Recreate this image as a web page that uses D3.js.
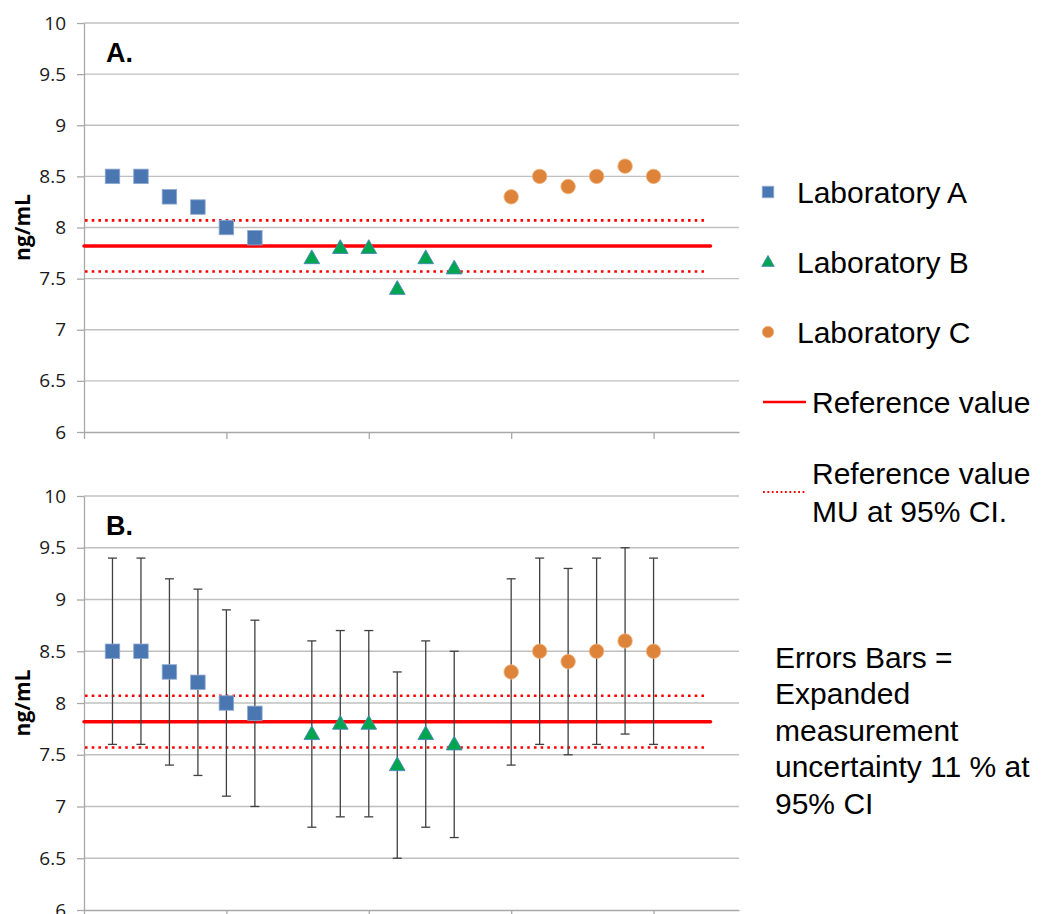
<!DOCTYPE html>
<html>
<head>
<meta charset="utf-8">
<script src="https://cdn.jsdelivr.net/npm/d3@7"></script>
<style>
  body { margin: 0; background: #fff; }
  svg { display: block; }
</style>
</head>
<body>
<script>
// values
const labAx = [1, 2, 3, 4, 5, 6];
const labAy = [8.5, 8.5, 8.3, 8.2, 8.0, 7.9];
const labAhi = [9.4, 9.4, 9.2, 9.1, 8.9, 8.8];
const labAlo = [7.6, 7.6, 7.4, 7.3, 7.1, 7.0];

const labBx = [8, 9, 10, 11, 12, 13];
const labBy = [7.7, 7.8, 7.8, 7.4, 7.7, 7.6];
const labBhi = [8.6, 8.7, 8.7, 8.3, 8.6, 8.5];
const labBlo = [6.8, 6.9, 6.9, 6.5, 6.8, 6.7];

const labCx = [15, 16, 17, 18, 19, 20];
const labCy = [8.3, 8.5, 8.4, 8.5, 8.6, 8.5];
const labChi = [9.2, 9.4, 9.3, 9.4, 9.5, 9.4];
const labClo = [7.4, 7.6, 7.5, 7.6, 7.7, 7.6];

const refValue = 7.82;
const refUpper = 8.07;
const refLower = 7.57;
const refXRange = [0, 22];

const yTicks = [6, 6.5, 7, 7.5, 8, 8.5, 9, 9.5, 10];
const xTicks = [0, 5, 10, 15, 20];

const width = 1043;
const height = 914;

const blue = "#4a77b2", green = "#00a550", orange = "#de843a", red = "#ff0000";
const gridColor = "#c0c0c0";

const svg = d3.create("svg")
    .attr("width", width)
    .attr("height", height)
    .attr("viewBox", `0 0 ${width} ${height}`);

const x = d3.scaleLinear().domain([0, 23]).range([84, 739]);

const labs = [
    {name: "Laboratory A", xs: labAx, ys: labAy, hi: labAhi, lo: labAlo, shape: "square"},
    {name: "Laboratory B", xs: labBx, ys: labBy, hi: labBhi, lo: labBlo, shape: "triangle"},
    {name: "Laboratory C", xs: labCx, ys: labCy, hi: labChi, lo: labClo, shape: "circle"}
];

function marker(g, shape, cx, cy, s) {
    if (shape === "square") {
        g.append("rect")
            .attr("x", cx - s / 2).attr("y", cy - s / 2)
            .attr("width", s).attr("height", s)
            .attr("fill", blue).attr("stroke", "#8fa9d0").attr("stroke-width", 0.8);
    } else if (shape === "triangle") {
        const w = s * 1.08, h = s * 0.95;
        g.append("path")
            .attr("d", `M${cx},${cy - h * 0.6}L${cx + w / 2},${cy + h * 0.4}L${cx - w / 2},${cy + h * 0.4}Z`)
            .attr("fill", green).attr("stroke", "#4a86b8").attr("stroke-width", 0.9);
    } else {
        g.append("circle")
            .attr("cx", cx).attr("cy", cy).attr("r", s / 2)
            .attr("fill", orange).attr("stroke", "#f0b482").attr("stroke-width", 0.8);
    }
}

function panel(top, bottom, label, withErrors) {
    const y = d3.scaleLinear().domain([6, 10]).range([bottom, top]);
    const g = svg.append("g");

    // gridlines
    g.selectAll(".grid")
        .data(yTicks.filter(d => d > 6))
        .enter()
        .append("line")
        .attr("x1", x(0)).attr("x2", x(23))
        .attr("y1", d => y(d)).attr("y2", d => y(d))
        .attr("stroke", gridColor).attr("stroke-width", 1.3);

    // y axis
    const ya = g.append("g")
        .attr("transform", `translate(${x(0)},0)`)
        .call(d3.axisLeft(y).tickValues(yTicks).tickSize(7).tickSizeOuter(0).tickPadding(11)
            .tickFormat(d3.format("")));
    ya.select(".domain").attr("stroke", "#a8a8a8").attr("stroke-width", 1.3);
    ya.selectAll(".tick line").attr("stroke", "#a8a8a8").attr("stroke-width", 1.3);
    ya.selectAll(".tick text")
        .attr("fill", "#1a1a1a")
        .style("font-family", "'Open Sans', sans-serif")
        .style("font-size", "19px");

    // x axis
    const xa = g.append("g")
        .attr("transform", `translate(0,${y(6)})`)
        .call(d3.axisBottom(x).tickValues(xTicks).tickSize(7).tickSizeOuter(0).tickFormat(""));
    xa.select(".domain").attr("stroke", "#a8a8a8").attr("stroke-width", 1.3);
    xa.selectAll(".tick line").attr("stroke", "#a8a8a8").attr("stroke-width", 1.3);

    // axis title
    g.append("text")
        .attr("transform", `translate(30,${(top + bottom) / 2}) rotate(-90)`)
        .attr("text-anchor", "middle")
        .style("font-family", "'Open Sans', sans-serif")
        .style("font-weight", "bold")
        .style("font-size", "21px")
        .text("ng/mL");

    // panel label
    g.append("text")
        .attr("x", 106).attr("y", top + 39)
        .style("font-family", "'Liberation Sans', Arial, sans-serif")
        .style("font-weight", "bold")
        .style("font-size", "27px")
        .text(label);

    // reference lines
    g.append("line")
        .attr("x1", x(refXRange[0])).attr("x2", x(refXRange[1]))
        .attr("y1", y(refValue)).attr("y2", y(refValue))
        .attr("stroke", red).attr("stroke-width", 3.5).attr("stroke-linecap", "round");
    [refUpper, refLower].forEach(v => {
        g.append("line")
            .attr("x1", x(refXRange[0]) + 1).attr("x2", x(refXRange[1]) - 3)
            .attr("y1", y(v)).attr("y2", y(v))
            .attr("stroke", red).attr("stroke-width", 2.6)
            .attr("stroke-dasharray", "2.6,4.1");
    });

    // error bars
    if (withErrors) {
        labs.forEach(lab => {
            lab.xs.forEach((xv, i) => {
                const cx = x(xv);
                g.append("line")
                    .attr("x1", cx).attr("x2", cx)
                    .attr("y1", y(lab.hi[i])).attr("y2", y(lab.lo[i]))
                    .attr("stroke", "#404040").attr("stroke-width", 1.3);
                [lab.hi[i], lab.lo[i]].forEach(v => {
                    g.append("line")
                        .attr("x1", cx - 4.5).attr("x2", cx + 4.5)
                        .attr("y1", y(v)).attr("y2", y(v))
                        .attr("stroke", "#404040").attr("stroke-width", 1.3);
                });
            });
        });
    }

    // points
    labs.forEach(lab => {
        lab.xs.forEach((xv, i) => marker(g, lab.shape, x(xv), y(lab.ys[i]), 14.5));
    });
}

panel(23, 432, "A.", false);
panel(496, 910, "B.", true);

// legend
const legendFont = "'Liberation Sans', Arial, sans-serif";
const leg = svg.append("g");
const legRows = [192, 262, 332];
labs.forEach((lab, i) => {
    marker(leg, lab.shape, 768, legRows[i], 11.5);
    leg.append("text")
        .attr("x", 797).attr("y", legRows[i] + 11)
        .style("font-family", legendFont).style("font-size", "30px")
        .text(lab.name);
});

leg.append("line")
    .attr("x1", 763).attr("x2", 806).attr("y1", 402).attr("y2", 402)
    .attr("stroke", red).attr("stroke-width", 2.5);
leg.append("text")
    .attr("x", 812).attr("y", 413)
    .style("font-family", legendFont).style("font-size", "30px")
    .text("Reference value");

leg.append("line")
    .attr("x1", 763).attr("x2", 806).attr("y1", 492).attr("y2", 492)
    .attr("stroke", red).attr("stroke-width", 2)
    .attr("stroke-dasharray", "1.8,2.6");
leg.append("text")
    .attr("x", 812).attr("y", 484)
    .style("font-family", legendFont).style("font-size", "30px")
    .text("Reference value");
leg.append("text")
    .attr("x", 812).attr("y", 522)
    .style("font-family", legendFont).style("font-size", "30px")
    .text("MU at 95% CI.");

// note
const noteLines = ["Errors Bars =", "Expanded", "measurement", "uncertainty 11 % at", "95% CI"];
svg.append("g").selectAll("text")
    .data(noteLines)
    .enter()
    .append("text")
    .attr("x", 775)
    .attr("y", (d, i) => 668 + i * 36.4)
    .style("font-family", legendFont).style("font-size", "30px")
    .text(d => d);

document.body.appendChild(svg.node());
</script>
</body>
</html>
